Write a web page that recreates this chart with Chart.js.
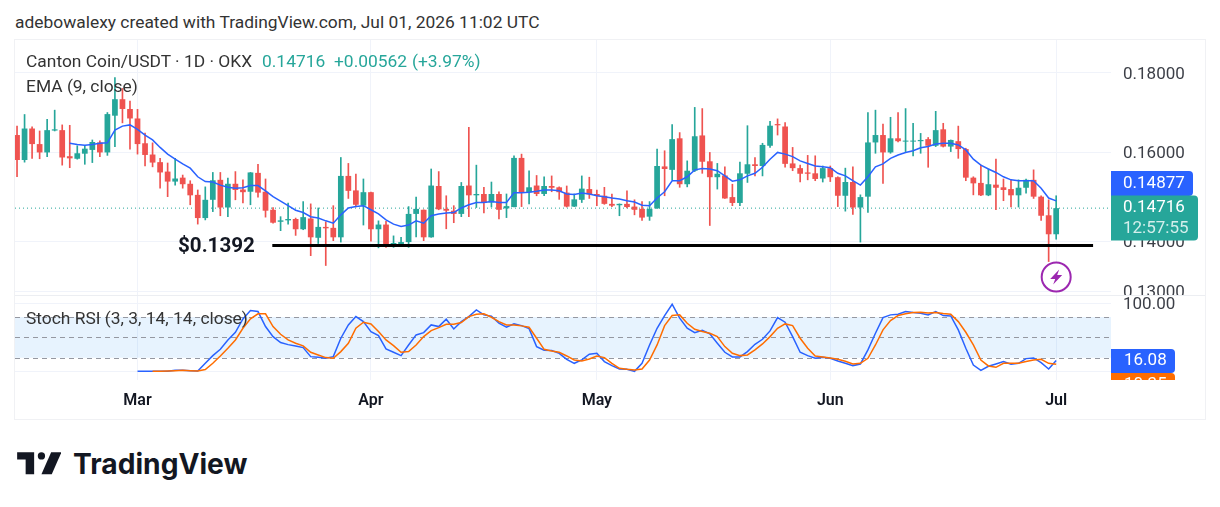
<!DOCTYPE html>
<html>
<head>
<meta charset="utf-8">
<title>Canton Coin/USDT</title>
<script src="https://cdn.jsdelivr.net/npm/chart.js@4/dist/chart.umd.min.js"></script>
<style>
  html, body { margin: 0; padding: 0; background: #fff; }
  body { width: 1220px; height: 507px; overflow: hidden; position: relative; font-family: Roboto, sans-serif; color: #333; }
  canvas { position: absolute; left: 0; }
  #priceChart { top: 40px; }
  #stochChart { top: 296px; }
  .box { position: absolute; left: 14px; top: 39px; width: 1190px; height: 379px; border: 1px solid #f0f1f4; }
  .sep { position: absolute; left: 15px; top: 295px; width: 1190px; height: 1px; background: #eceef2; }
  .txt { position: absolute; font-size: 17.4px; line-height: 20px; white-space: nowrap; }
  .up { color: #26a69a; }
  #support { font-size: 20.6px; font-weight: 700; color: #131722; }
  #brand { font-size: 28.2px; font-weight: 700; line-height: 40px; color: #131722; font-family: Inter, Roboto, sans-serif; }
  svg { position: absolute; }
</style>
</head>
<body>
<div class="box"></div>
<div class="sep"></div>
<canvas id="priceChart" width="1220" height="255"></canvas>
<canvas id="stochChart" width="1220" height="124"></canvas>

<div class="txt" style="left:15px;top:12px">adebowalexy created with TradingView.com, Jul 01, 2026 11:02 UTC</div>
<div class="txt" style="left:26px;top:51px">Canton Coin/USDT · 1D · OKX</div>
<div class="txt up" style="left:262px;top:51px">0.14716</div>
<div class="txt up" style="left:334px;top:51px">+0.00562</div>
<div class="txt up" style="left:412px;top:51px">(+3.97%)</div>
<div class="txt" style="left:26px;top:76px">EMA (9, close)</div>
<div class="txt" style="left:26px;top:308px">Stoch RSI (3, 3, 14, 14, close)</div>
<div class="txt" id="support" style="left:178px;top:235px">$0.1392</div>

<svg style="left:17px;top:445px" width="44" height="34" viewBox="0 0 36 28">
  <path fill="#131722" d="M14 6H0v6h7v12h7V6Z"/>
  <circle fill="#131722" cx="20" cy="9" r="3"/>
  <path fill="#131722" d="M28.5 24H20l8-18h8.5l-8 18Z"/>
</svg>
<div class="txt" id="brand" style="left:73px;top:444px">TradingView</div>

<script>
// daily candles, Feb 13 to Jul 1
const opens = [
  .1641,.1581,.1657,.1619,.1599,.1652,.1653,.1590,.1584,.1596,
  .1605,.1623,.1599,.1689,.1731,.1706,.1682,.1621,.1594,.1576,
  .1554,.1531,.1540,.1526,.1501,.1450,.1490,.1535,.1473,.1526,
  .1513,.1508,.1551,.1508,.1468,.1442,.1445,.1448,.1426,.1449,
  .1408,.1431,.1429,.1409,.1544,.1511,.1477,.1507,.1426,.1436,
  .1395,.1395,.1399,.1459,.1468,.1409,.1521,.1470,.1466,.1459,
  .1522,.1500,.1503,.1484,.1503,.1471,.1474,.1586,.1507,.1522,
  .1503,.1521,.1518,.1506,.1475,.1490,.1514,.1503,.1499,.1481,
  .1478,.1481,.1475,.1470,.1453,.1471,.1566,.1558,.1633,.1525,
  .1556,.1640,.1578,.1541,.1545,.1496,.1483,.1549,.1571,.1567,
  .1615,.1668,.1662,.1573,.1562,.1552,.1550,.1538,.1562,.1541,
  .1499,.1530,.1473,.1497,.1623,.1641,.1599,.1633,.1625,.1625,
  .1626,.1631,.1615,.1655,.1613,.1626,.1607,.1540,.1528,.1500,
  .1524,.1518,.1514,.1500,.1517,.1535,.1497,.1456,.14154
];
const highs = [
  .1663,.1692,.1661,.1651,.1680,.1703,.1666,.1665,.1615,.1616,
  .1629,.1627,.1697,.1788,.1759,.1726,.1705,.1646,.1622,.1585,
  .1574,.1585,.1546,.1533,.1512,.1519,.1552,.1552,.1539,.1554,
  .1535,.1552,.1571,.1537,.1473,.1453,.1483,.1450,.1486,.1481,
  .1472,.1442,.1477,.1587,.1573,.1548,.1537,.1507,.1444,.1443,
  .1412,.1409,.1475,.1496,.1468,.1560,.1554,.1499,.1477,.1529,
  .1660,.1569,.1518,.1530,.1508,.1503,.1591,.1595,.1556,.1545,
  .1542,.1544,.1519,.1521,.1503,.1544,.1541,.1512,.1518,.1503,
  .1481,.1510,.1490,.1486,.1486,.1607,.1603,.1667,.1647,.1579,
  .1710,.1707,.1599,.1573,.1565,.1525,.1576,.1664,.1587,.1621,
  .1675,.1681,.1672,.1611,.1569,.1592,.1591,.1567,.1567,.1542,
  .1562,.1565,.1501,.1697,.1703,.1668,.1685,.1697,.1707,.1670,
  .1645,.1635,.1700,.1670,.1629,.1663,.1609,.1542,.1569,.1560,
  .1583,.1537,.1535,.1535,.1537,.1558,.1499,.1490,.1499
];
const lows = [
  .1542,.1576,.1585,.1584,.1589,.1651,.1569,.1563,.1583,.1571,
  .1575,.1589,.1592,.1613,.1671,.1607,.1595,.1567,.1565,.1516,
  .1497,.1523,.1516,.1479,.1437,.1446,.1464,.1455,.1453,.1490,
  .1483,.1479,.1496,.1452,.1439,.1423,.1437,.1413,.1425,.1371,
  .1396,.1351,.1402,.1399,.1493,.1474,.1435,.1401,.1387,.1388,
  .1388,.1390,.1388,.1410,.1402,.1409,.1468,.1427,.1440,.1453,
  .1453,.1473,.1461,.1474,.1448,.1451,.1474,.1475,.1481,.1499,
  .1499,.1508,.1491,.1474,.1475,.1484,.1493,.1477,.1480,.1475,
  .1455,.1472,.1457,.1445,.1445,.1471,.1499,.1535,.1518,.1519,
  .1554,.1550,.1434,.1514,.1493,.1477,.1477,.1529,.1544,.1544,
  .1611,.1641,.1564,.1556,.1530,.1535,.1533,.1530,.1531,.1475,
  .1465,.1458,.1399,.1462,.1597,.1527,.1597,.1624,.1601,.1591,
  .1597,.1564,.1613,.1612,.1601,.1585,.1533,.1501,.1499,.1499,
  .1468,.1488,.1474,.1474,.1505,.1493,.1445,.1359,.1405
];
const closes = [
  .1581,.1657,.1619,.1599,.1653,.1655,.1587,.1585,.1597,.1608,
  .1624,.1599,.1693,.1731,.1706,.1682,.1619,.1593,.1575,.1552,
  .1531,.1538,.1525,.1500,.1450,.1490,.1534,.1473,.1526,.1512,
  .1507,.1552,.1506,.1466,.1440,.1445,.1448,.1426,.1452,.1409,
  .1431,.1428,.1409,.1544,.1510,.1479,.1507,.1426,.1436,.1395,
  .1397,.1399,.1459,.1470,.1409,.1522,.1469,.1466,.1459,.1521,
  .1500,.1503,.1483,.1503,.1468,.1476,.1586,.1507,.1518,.1503,
  .1521,.1517,.1507,.1475,.1491,.1515,.1502,.1499,.1481,.1477,
  .1481,.1474,.1468,.1451,.1470,.1567,.1560,.1631,.1525,.1556,
  .1638,.1577,.1541,.1549,.1493,.1483,.1550,.1571,.1567,.1617,
  .1664,.1665,.1572,.1562,.1549,.1549,.1537,.1562,.1541,.1499,
  .1530,.1473,.1496,.1623,.1641,.1599,.1633,.1626,.1627,.1627,
  .1629,.1615,.1653,.1613,.1629,.1607,.1540,.1527,.1500,.1525,
  .1517,.1512,.1500,.1517,.1535,.1497,.1455,.14154,.14716
];

// EMA starts on the 8th candle
const emaStart = 7;
const ema = [
  .1621,.1618,.1616,.1618,.1621,.1622,.1653,.1663,.1666,.1655,
  .1641,.1629,.1611,.1595,.1583,.1572,.1562,.1542,.1531,.1530,
  .1523,.1518,.1516,.1517,.1522,.1522,.1510,.1497,.1487,.1477,
  .1467,.1462,.1453,.1450,.1444,.1439,.1457,.1472,.1475,.1477,
  .1468,.1459,.1446,.1437,.1432,.1435,.1444,.1439,.1455,.1459,
  .1461,.1462,.1472,.1479,.1484,.1484,.1486,.1484,.1484,.1506,
  .1506,.1507,.1509,.1512,.1512,.1510,.1503,.1502,.1505,.1503,
  .1499,.1497,.1494,.1492,.1488,.1485,.1478,.1477,.1494,.1508,
  .1533,.1533,.1542,.1558,.1561,.1560,.1556,.1544,.1532,.1535,
  .1544,.1550,.1564,.1583,.1599,.1595,.1589,.1579,.1573,.1567,
  .1565,.1563,.1550,.1544,.1533,.1523,.1542,.1565,.1572,.1585,
  .1593,.1599,.1603,.1610,.1613,.1619,.1621,.1621,.1617,.1605,
  .1583,.1569,.1560,.1552,.1542,.1535,.1533,.1533,.1533,.1516,
  .1494,.14877
];

const supportLevel = 0.1392;
const supportFrom = 33.9;
const supportTo = 142.9;

const stochKStart = 16;
const stochK = [
  0,0,0,0,
  0,1.5,1.5,1,.5,11.8,23.1,32.4,46.2,57.5,
  77.2,89.5,88,65.9,51.1,42.3,39.3,37.4,34.9,21.6,
  20.6,19.2,21.6,48.7,68.3,80.6,73.2,58.5,52.6,32.9,
  28,23.1,38.8,53.6,57,68.3,65.9,76.7,62.4,73.2,
  80.6,90.5,83.1,81.1,70.8,64.9,69.8,67.3,62.9,36.4,
  31,30.5,26.5,17.7,11.8,16.7,25.1,26.5,14.3,8.4,
  3.4,2.9,0,11.8,38.8,63.4,82.1,98.8,78.2,63.4,
  57,60.5,55.1,41.3,28,21.1,21.1,29,39.8,47.2,
  59.5,79.1,72.3,51.1,28,23.1,19.2,20.6,19.2,15.2,
  11.8,8.4,10.8,31.5,56,79.1,83.1,84.1,88,86.5,
  85.5,83.1,88,82.1,81.6,61,33.9,9.3,1.5,7.4,
  10.8,14.3,10.3,11.8,18.7,19.7,12.8,3.4,16.08
];
const stochDStart = 18;
const stochD = [
  0,0,
  .5,1,1.5,1,.5,2.5,11.8,22.6,33.9,46.2,
  63.4,77.2,84.6,84.6,65.9,54.6,46.2,41.3,37.4,28,
  24.1,20.2,19.2,29,41.3,63.4,72.3,69.8,58.5,46.2,
  37.9,28,29,38.8,51.1,60,64.4,69.3,69.3,71.8,
  80.6,84.1,84.6,79.6,73.2,68.3,68.3,66.9,64.9,48.7,
  32.4,30,28,22.6,16.7,15.2,18.2,22.6,20.2,11.8,
  4.4,2.9,2,3.4,16.7,38.8,67.3,82.1,83.1,70.8,
  61.9,58.5,56,51.1,36.4,26.5,23.1,24.1,31.5,40.3,
  51.1,63.4,69.8,67.3,48.7,33.9,22.6,21.1,19.7,17.7,
  14.7,10.8,11.8,19.2,38.8,61,74.7,82.1,84.6,86.5,
  87,86,86.5,85,84.1,73.2,57.5,38.8,16.7,7.9,
  5.9,11.8,11.8,11.8,14.3,16.7,17.7,11.8,10.35
];
const stochLevels = [80, 50, 20];

const priceTicks = [0.13, 0.14, 0.16, 0.18];
const stochTicks = [100];
const monthLabels = ['Mar', 'Apr', 'May', 'Jun', 'Jul'];
const monthIndex = [16, 47, 77, 108, 138];
const countdown = '12:57:55';

const UP = '#26a69a', DOWN = '#ef5350', BLUE = '#2962ff', ORANGE = '#ff6d00';
const GRID = '#f0f3fa', TEXT = '#3c3f47';
const FONT = 'Roboto, sans-serif';
const xMin = -0.27, xMax = 145.28;
const lastIdx = closes.length - 1;

const candleColors = closes.map((c, i) => c >= opens[i] ? UP : DOWN);

function fitAxis(size) {
  return function (axis) {
    if (axis.isHorizontal()) axis.height = size; else axis.width = size;
    axis.paddingTop = axis.paddingBottom = axis.paddingLeft = axis.paddingRight = 0;
  };
}

function xAxis(showLabels) {
  return {
    type: 'linear', min: xMin, max: xMax, bounds: 'data', offset: false,
    afterBuildTicks: axis => { axis.ticks = monthIndex.map(v => ({ value: v })); },
    afterFit: fitAxis(showLabels ? 40 : 0),
    border: { display: false },
    grid: { color: GRID, drawTicks: false, offset: false },
    ticks: {
      display: showLabels, autoSkip: false, maxRotation: 0, padding: 11, color: '#131722',
      font: { family: FONT, size: 16, weight: 600 },
      callback: v => monthLabels[monthIndex.indexOf(v)]
    }
  };
}

function tag(ctx, x, y, w, h, color) {
  ctx.fillStyle = color;
  ctx.beginPath();
  ctx.roundRect(x, y, w, h, [0, 4, 4, 0]);
  ctx.fill();
}

function tagText(ctx, text, x, y, color) {
  ctx.fillStyle = color;
  ctx.font = '17px ' + FONT;
  ctx.textAlign = 'left';
  ctx.textBaseline = 'middle';
  ctx.fillText(text, x, y);
}

// right hand price labels and the purple alert marker
const priceOverlay = {
  id: 'priceOverlay',
  afterDraw(chart) {
    const { ctx, scales } = chart;
    ctx.save();
    tag(ctx, 1111, 131, 82, 25, BLUE);
    tagText(ctx, ema[ema.length - 1].toFixed(5), 1123, 144, '#fff');
    tag(ctx, 1111, 155.5, 87, 45, UP);
    tagText(ctx, closes[lastIdx].toFixed(5), 1123, 168, '#fff');
    tagText(ctx, countdown, 1123, 189, '#d4efec');

    const cx = scales.x.getPixelForValue(lastIdx);
    const cy = scales.y.getPixelForValue(0.1328);
    ctx.strokeStyle = '#9c27b0';
    ctx.lineWidth = 2;
    ctx.beginPath();
    ctx.arc(cx, cy, 14.5, 0, Math.PI * 2);
    ctx.fillStyle = '#fff';
    ctx.fill();
    ctx.stroke();
    ctx.fillStyle = '#9c27b0';
    ctx.beginPath();
    [[3, -7.5], [-6, 2], [-1, 2], [-3, 7.5], [6, -2], [1, -2]].forEach((p, i) => {
      if (i) ctx.lineTo(cx + p[0], cy + p[1]); else ctx.moveTo(cx + p[0], cy + p[1]);
    });
    ctx.closePath();
    ctx.fill();
    ctx.restore();
  }
};

// shaded 20-80 band with its dashed levels
const stochBand = {
  id: 'stochBand',
  beforeDatasetsDraw(chart) {
    const { ctx, chartArea: a, scales } = chart;
    const y = scales.y;
    ctx.save();
    ctx.fillStyle = 'rgba(33,150,243,0.11)';
    const top = y.getPixelForValue(stochLevels[0]);
    ctx.fillRect(a.left, top, a.right - a.left, y.getPixelForValue(stochLevels[2]) - top);
    ctx.strokeStyle = '#9598a1';
    ctx.lineWidth = 1;
    ctx.setLineDash([5, 4]);
    stochLevels.forEach(v => {
      const py = Math.round(y.getPixelForValue(v)) + 0.5;
      ctx.beginPath();
      ctx.moveTo(a.left, py);
      ctx.lineTo(a.right, py);
      ctx.stroke();
    });
    ctx.restore();
  },
  afterDraw(chart) {
    const { ctx, chartArea: a } = chart;
    ctx.save();
    ctx.beginPath();
    ctx.rect(a.right, a.top, 200, a.bottom - a.top);
    ctx.clip();
    tag(ctx, 1111, 53, 64, 24, BLUE);
    tagText(ctx, stochK[stochK.length - 1].toFixed(2), 1124, 65, '#fff');
    tag(ctx, 1111, 77, 64, 24, ORANGE);
    tagText(ctx, stochD[stochD.length - 1].toFixed(2), 1124, 89, '#fff');
    ctx.restore();
  }
};

new Chart(document.getElementById('priceChart'), {
  data: {
    datasets: [
      {
        type: 'line', order: 0, borderColor: '#000', borderWidth: 3, pointRadius: 0,
        data: [{ x: supportFrom, y: supportLevel }, { x: supportTo, y: supportLevel }]
      },
      {
        type: 'line', order: 1, borderColor: BLUE, borderWidth: 1.5, pointRadius: 0, tension: 0,
        data: ema.map((v, i) => ({ x: i + emaStart, y: v }))
      },
      {
        type: 'bar', order: 2, grouped: false, barPercentage: 1, categoryPercentage: 0.76, minBarLength: 1,
        backgroundColor: candleColors,
        data: closes.map((c, i) => ({ x: i, y: [opens[i], c] }))
      },
      {
        type: 'bar', order: 3, grouped: false, barPercentage: 1, categoryPercentage: 1, maxBarThickness: 1,
        backgroundColor: candleColors,
        data: closes.map((c, i) => ({ x: i, y: [lows[i], highs[i]] }))
      },
      {
        type: 'line', order: 4, borderColor: UP, borderWidth: 1, borderDash: [1, 3], pointRadius: 0,
        data: [{ x: xMin, y: closes[lastIdx] }, { x: xMax, y: closes[lastIdx] }]
      }
    ]
  },
  options: {
    responsive: false, animation: false, events: [],
    layout: { padding: { left: 15, right: 15, top: 0, bottom: 0 } },
    plugins: { legend: { display: false }, tooltip: { enabled: false } },
    scales: {
      x: xAxis(false),
      y: {
        type: 'logarithmic', position: 'right', min: 0.12929, max: 0.18907, bounds: 'data',
        afterBuildTicks: axis => { axis.ticks = priceTicks.map(v => ({ value: v })); },
        afterFit: fitAxis(94),
        border: { display: false },
        grid: { color: GRID, drawTicks: false },
        ticks: {
          autoSkip: false, padding: 12, labelOffset: 1.5, color: TEXT,
          font: { family: FONT, size: 17 },
          callback: v => Number(v).toFixed(5)
        }
      }
    }
  },
  plugins: [priceOverlay]
});

new Chart(document.getElementById('stochChart'), {
  data: {
    datasets: [
      {
        type: 'line', label: '%K', order: 1, borderColor: BLUE, borderWidth: 1.5, pointRadius: 0,
        data: stochK.map((v, i) => ({ x: i + stochKStart, y: v }))
      },
      {
        type: 'line', label: '%D', order: 0, borderColor: ORANGE, borderWidth: 1.5, pointRadius: 0,
        data: stochD.map((v, i) => ({ x: i + stochDStart, y: v }))
      }
    ]
  },
  options: {
    responsive: false, animation: false, events: [],
    layout: { padding: { left: 15, right: 15, top: 0, bottom: 0 } },
    plugins: { legend: { display: false }, tooltip: { enabled: false } },
    scales: {
      x: xAxis(true),
      y: {
        type: 'linear', position: 'right', min: -12.8, max: 110.9, bounds: 'data',
        afterBuildTicks: axis => { axis.ticks = stochTicks.concat(0).map(v => ({ value: v })); },
        afterFit: fitAxis(94),
        border: { display: false },
        grid: { color: GRID, drawTicks: false },
        ticks: {
          autoSkip: false, padding: 12, labelOffset: 1.5, color: TEXT,
          font: { family: FONT, size: 17 },
          callback: v => v === 0 ? '' : Number(v).toFixed(2)
        }
      }
    }
  },
  plugins: [stochBand]
});
</script>
</body>
</html>
